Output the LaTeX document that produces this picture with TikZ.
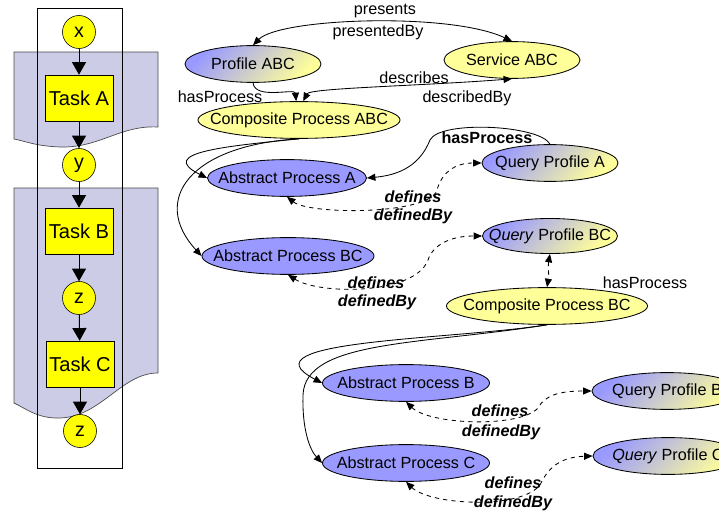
\documentclass[tikz,border=0pt]{standalone}
\usepackage{fontspec}
\setmainfont{Liberation Sans}
\usetikzlibrary{shapes,arrows.meta,backgrounds,positioning}

\definecolor{bandgray}{RGB}{204,204,230}
\definecolor{procblue}{RGB}{153,153,255}
\definecolor{proclight}{RGB}{255,255,153}
\definecolor{taskyel}{RGB}{255,255,0}

\newcommand{\inell}[1]{\makebox[0pt]{#1}}

\begin{document}
\begin{tikzpicture}[x=0.025cm, y=-0.025cm, >={Triangle[length=6pt,width=5pt]}]
		\tikzstyle{Band}	= [draw=black!70, fill=bandgray, line width=0.5pt]
		\tikzstyle{Task}	= [rectangle, draw, fill=taskyel, minimum width=1.7cm, minimum height=1.15cm, inner sep=0pt, font=\fontsize{14.3}{16}\selectfont]
		\tikzstyle{Cond}	= [circle, draw, fill=taskyel, minimum size=0.825cm, inner sep=0pt, font=\fontsize{14}{16}\selectfont]
		\tikzstyle{Flow}	= [-{Triangle[length=9pt,width=10pt]}, line width=0.7pt]
		\tikzstyle{Class}	= [ellipse, draw, line width=0.6pt, inner sep=0pt, minimum height=0.92cm, font=\fontsize{11.5}{13}\selectfont]
		\tikzstyle{Composite}	= [Class, fill=proclight]
		\tikzstyle{Abstract}	= [Class, fill=procblue]
		\tikzstyle{Profile}	= [Class, top color=procblue, bottom color=proclight, shading angle=45]
		\tikzstyle{Rel}		= [line width=0.6pt]
		\tikzstyle{Def}		= [line width=0.6pt, dashed]
		\tikzstyle{Lbl}		= [inner sep=0pt, font=\fontsize{11.5}{13}\selectfont]
		\tikzstyle{BLbl}	= [Lbl, font=\fontsize{11.5}{13}\selectfont\bfseries\itshape]

		\useasboundingbox (0,0) rectangle (719,512);

		% workflow on the left
		\draw [Band] (14,52) -- (158,52) -- (158,127) .. controls (120,125) and (100,148) .. (60,147) .. controls (35,146) and (25,141) .. (14,139) -- cycle;
		\draw [Band] (14,188) -- (158,188) -- (158,373) .. controls (120,373) and (100,420) .. (55,418) .. controls (35,417) and (25,408) .. (14,403) -- cycle;
		\draw [line width=0.7pt] (37,8) rectangle (122,468);

		\node (cx) at (79,32) [Cond] {x};
		\node (ta) at (79,98) [Task] {Task A};
		\node (cy) at (79,165) [Cond] {y};
		\node (tb) at (79,231) [Task] {Task B};
		\node (cz) at (79,298) [Cond] {z};
		\node (tc) at (80,364) [Task] {Task C};
		\node (cw) at (80,431) [Cond] {z};

		\draw (cx) to (ta) [Flow];
		\draw (ta) to (cy) [Flow];
		\draw (cy) to (tb) [Flow];
		\draw (tb) to (cz) [Flow];
		\draw (cz) to (tc) [Flow];
		\draw (tc) to (cw) [Flow];

		% service description
		\node (prof) at (253,64) [Profile, minimum width=3.4cm] {\inell{Profile ABC}};
		\node (serv) at (512,60) [Composite, minimum width=3.4cm] {\inell{Service ABC}};
		\node (cpabc) at (299,120) [Composite, minimum width=5.05cm] {\inell{Composite Process ABC}};
		\node (apa) at (287,178) [Abstract, minimum width=3.975cm] {\inell{Abstract Process A}};
		\node (qpa) at (550,163) [Profile, minimum width=3.4cm] {\inell{Query Profile A}};
		\node (apbc) at (288,256) [Abstract, minimum width=4.3cm] {\inell{Abstract Process BC}};
		\node (qpbc) at (550,236) [Profile, minimum width=3.375cm, minimum height=0.875cm] {\inell{\textit{Query} Profile BC}};
		\node (cpbc) at (547,306) [Composite, minimum width=5.025cm] {\inell{Composite Process BC}};
		\node (apb) at (406,383) [Abstract, minimum width=4.175cm] {\inell{Abstract Process B}};
		\node (qpb) at (667,391) [Profile, minimum width=3.75cm] {\inell{Query Profile B}};
		\node (apc) at (406,463) [Abstract, minimum width=4.175cm] {\inell{Abstract Process C}};
		\node (qpc) at (668,456) [Profile, minimum width=3.75cm] {\inell{\textit{Query} Profile C}};

		\draw [<->] (prof.north) .. controls (280,18) and (450,12) .. (serv.north) [Rel];
		\draw [<->] ([xshift=3pt]cpabc.north) .. controls (310,88) and (420,86) .. (serv.south) [Rel];
		\draw [->] (prof.south) .. controls (255,100) and (295,88) .. ([xshift=-2pt]cpabc.north) [Rel];
		\draw [->] (cpabc.south) .. controls (230,146) and (155,152) .. (apa.west) [Rel];
		\draw [->] (cpabc.south) .. controls (190,145) and (150,200) .. (apbc.west) [Rel];
		\draw [->] (qpa.north) .. controls (540,125) and (440,120) .. (430,140) .. controls (420,165) and (400,175) .. (apa.east) [Rel];
		\draw [<->] (apa.south) .. controls (310,215) and (430,215) .. (437,190) .. controls (442,172) and (455,163) .. (qpa.west) [Def];
		\draw [<->] (apbc.south) .. controls (320,295) and (415,295) .. (428,260) .. controls (433,245) and (450,236) .. (qpbc.west) [Def];
		\draw [<->] (qpbc.south) to [out=-100, in=80] (cpbc.north) [Def];
		\draw [->] (cpbc.south) .. controls (450,340) and (240,340) .. (apb.west) [Rel];
		\draw [->] (cpbc.south) .. controls (420,345) and (305,340) .. (303,395) .. controls (302,430) and (310,450) .. (apc.west) [Rel];
		\draw [<->] (apb.south) .. controls (430,425) and (520,428) .. (538,408) .. controls (545,395) and (560,391) .. (qpb.west) [Def];
		\draw [<->] (apc.south) .. controls (430,505) and (520,510) .. (540,485) .. controls (548,468) and (560,457) .. (qpc.west) [Def];

		% labels
		\node (lpres) at (385,11) [Lbl] {presents};
		\node (lpresby) at (378,32) [Lbl] {presentedBy};
		\node (ldesc) at (414,78) [Lbl] {describes};
		\node (ldescby) at (467,98) [Lbl] {describedBy};
		\node (lhas) at (220,97) [Lbl] {hasProcess};
		\node (lhasa) at (487,138) [Lbl, font=\fontsize{11.5}{13}\selectfont\bfseries] {hasProcess};
		\node (lhasbc) at (645,283) [Lbl] {hasProcess};
		\node (ldefa) at (413,197) [BLbl] {defines};
		\node (ldefbya) at (413,216) [BLbl] {definedBy};
		\node (ldefbc) at (376,283) [BLbl] {defines};
		\node (ldefbybc) at (377,302) [BLbl] {definedBy};
		\node (ldefb) at (500,411) [BLbl] {defines};
		\node (ldefbyb) at (501,432) [BLbl] {definedBy};
		\node (ldefc) at (513,483) [BLbl] {defines};
		\node (ldefbyc) at (513,503) [BLbl] {definedBy};
\end{tikzpicture}
\end{document}
